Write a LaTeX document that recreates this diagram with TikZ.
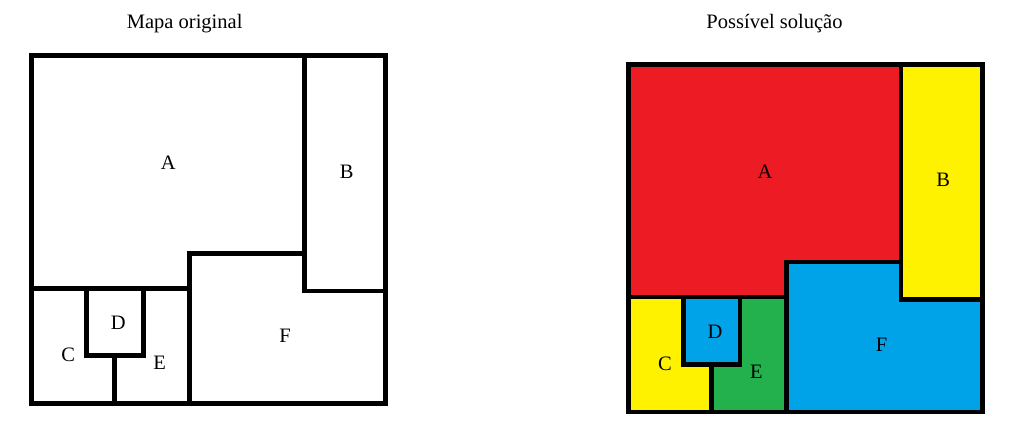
\documentclass[tikz,border=0pt]{standalone}
\usepackage{fontspec}
\setmainfont{Liberation Serif}
\usepackage{tikz}
\usetikzlibrary{positioning}
\definecolor{vermelho}{HTML}{ED1C24}
\definecolor{amarelo}{HTML}{FFF200}
\definecolor{azul}{HTML}{00A2E8}
\definecolor{verde}{HTML}{22B14C}
\tikzset{
  borda/.style={draw=black,line width=4.7pt,line cap=rect,line join=miter},
  rotulo/.style={inner sep=0pt,font=\fontsize{20.5}{24}\selectfont},
  titulo/.style={anchor=base,inner sep=0pt,font=\fontsize{20.5}{24}\selectfont}
}
\begin{document}
\begin{tikzpicture}[x=1pt,y=-1pt]
        \useasboundingbox (0,0) rectangle (1009,437);
        \node (T1) at (184.7,28.3) [titulo] {Mapa original};
        \node (T2) at (774.5,28.3) [titulo] {Possível solução};

        % cores da solucao
        \begin{scope}[shift={(628.3,64.3)}]
          \fill[vermelho] (0,0) -- (272.7,0) -- (272.7,197.8) -- (158,197.8) -- (158,232.8) -- (0,232.8) -- cycle;
          \fill[amarelo] (272.7,0) rectangle (354,235.3);
          \fill[azul] (158,197.8) -- (272.7,197.8) -- (272.7,235.3) -- (354,235.3) -- (354,347.6) -- (158,347.6) -- cycle;
          \fill[amarelo] (0,232.8) -- (55,232.8) -- (55,300) -- (83,300) -- (83,347.6) -- (0,347.6) -- cycle;
          \fill[azul] (55,232.8) rectangle (111.8,300);
          \fill[verde] (111.8,232.8) -- (158,232.8) -- (158,347.6) -- (83,347.6) -- (83,300) -- (111.8,300) -- cycle;
        \end{scope}

        % fronteiras dos dois mapas
        \foreach \ox/\oy/\m in {31.7/55.7/L, 628.3/64.3/R} {
          \begin{scope}[shift={(\ox,\oy)}]
            \draw[borda] (0,0) rectangle (354,347.6);
            \draw[borda] (272.7,0) -- (272.7,235.3) -- (354,235.3);
            \draw[borda] (272.7,197.8) -- (158,197.8) -- (158,347.6);
            \draw[borda] (0,232.8) -- (158,232.8);
            \draw[borda] (55,232.8) rectangle (111.8,300);
            \draw[borda] (83,300) -- (83,347.6);
            \node (A\m) at (136.6,107.5) [rotulo] {A};
            \node (B\m) at (315,115.8) [rotulo] {B};
            \node (C\m) at (36.6,299.2) [rotulo] {C};
            \node (D\m) at (86.6,267.5) [rotulo] {D};
            \node (E\m) at (128,307.2) [rotulo] {E};
            \node (F\m) at (253.3,280.5) [rotulo] {F};
          \end{scope}
        }
\end{tikzpicture}
\end{document}
